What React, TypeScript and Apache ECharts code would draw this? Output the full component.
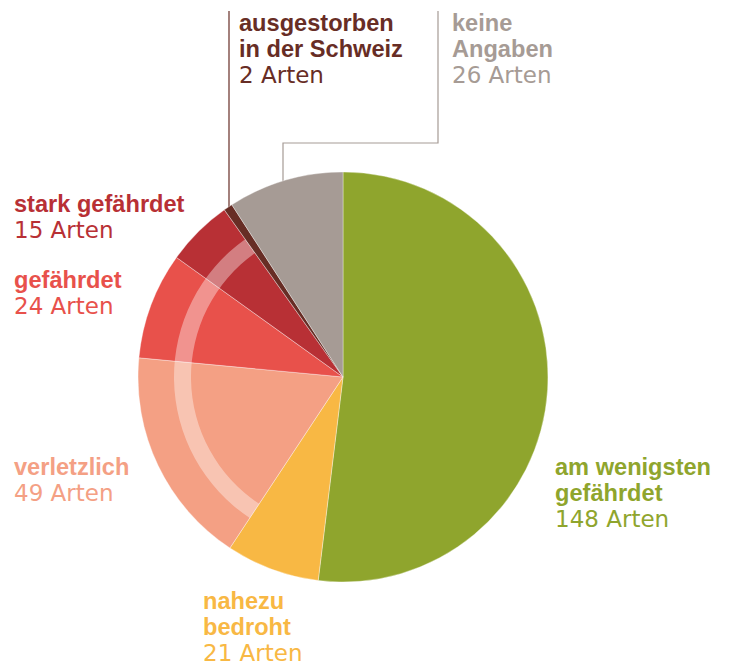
import React, { useEffect, useRef } from "react";
import * as echarts from "echarts";

const categories = [
  "am wenigsten\ngefährdet",
  "nahezu\nbedroht",
  "verletzlich",
  "gefährdet",
  "stark gefährdet",
  "ausgestorben\nin der Schweiz",
  "keine\nAngaben",
];
const values = [148, 21, 49, 24, 15, 2, 26];
const colors = ["#8FA52D", "#F8B844", "#F4A084", "#E8514B", "#B83035", "#672D25", "#A69B95"];
// group overlay: not threatened / threatened (verletzlich + gefährdet + stark gefährdet) / rest
const groupValues = [148 + 21, 49 + 24 + 15, 2 + 26];

const labelPos: [number, number][] = [
  [555, 455],
  [203, 589],
  [14, 455],
  [14, 268],
  [14, 192],
  [239, 11],
  [452, 11],
];

export default function App() {
  const ref = useRef<HTMLDivElement>(null);
  useEffect(() => {
    document.body.style.margin = "0";
    const chart = echarts.init(ref.current!, null, { renderer: "svg" });
    const LH = 26.5;
    const texts: any[] = [];
    categories.forEach((c, i) => {
      const lines = c.split("\n");
      const [x, y] = labelPos[i];
      lines.forEach((ln, j) => {
        texts.push({
          type: "text",
          left: x,
          top: y + j * LH - 0.5,
          style: {
            text: ln,
            fill: colors[i],
            font: 'bold 23.6px "Liberation Sans", Arial, sans-serif',
          },
        });
      });
      texts.push({
        type: "text",
        left: x,
        top: y + lines.length * LH - 0.5,
        style: {
          text: `${values[i]} Arten`,
          fill: colors[i],
          font: '23px "DejaVu Sans", sans-serif',
        },
      });
    });
    chart.setOption({
      animation: false,
      backgroundColor: "#ffffff",
      series: [
        {
          type: "pie",
          center: [343, 377],
          radius: [0, 205],
          startAngle: 90,
          clockwise: true,
          silent: true,
          label: { show: false },
          labelLine: { show: false },
          itemStyle: { borderColor: "rgba(255,255,255,0.6)", borderWidth: 0.6 },
          data: values.map((v, i) => ({ name: categories[i], value: v, itemStyle: { color: colors[i] } })),
        },
        {
          type: "pie",
          center: [343, 377],
          radius: [152, 169],
          startAngle: 90,
          clockwise: true,
          silent: true,
          label: { show: false },
          labelLine: { show: false },
          data: groupValues.map((v, i) => ({
            value: v,
            itemStyle: { color: i === 1 ? "rgba(255,255,255,0.38)" : "rgba(0,0,0,0)" },
          })),
        },
      ],
      graphic: [
        {
          type: "polyline",
          shape: { points: [[229, 11], [229, 209]] },
          style: { stroke: "#672D25", lineWidth: 1.2, fill: null },
        },
        {
          type: "polyline",
          shape: { points: [[438, 11], [438, 143], [283, 143], [283, 181]] },
          style: { stroke: "#A69B95", lineWidth: 1.2, fill: null },
        },
        ...texts,
      ],
    });
    return () => chart.dispose();
  }, []);
  return <div ref={ref} style={{ width: 730, height: 666 }} />;
}
